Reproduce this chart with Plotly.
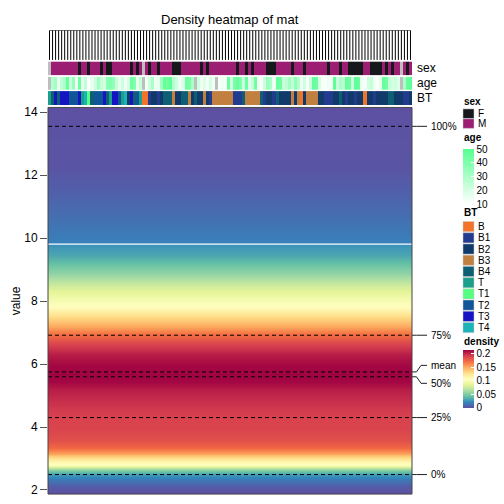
import plotly.graph_objects as go

W = H = 504
FONT = "Liberation Sans, Arial, Helvetica, sans-serif"

# ---------------- data ----------------
n_cols = 120
value_grid = [1.95, 2.16, 2.35, 2.48, 2.61, 2.70, 2.79, 2.92, 3.05, 3.17, 3.36, 3.58,
              3.93, 4.37, 4.78, 5.19, 5.44, 5.69, 5.94, 6.29, 6.66, 6.98, 7.23, 7.51,
              7.83, 8.27, 8.55, 8.86, 9.18, 9.49, 9.78, 9.84, 10.69, 11.54, 12.26, 14.15]
density = [0.001, 0.006, 0.016, 0.028, 0.050, 0.075, 0.100, 0.115, 0.135, 0.155, 0.175, 0.185,
           0.190, 0.192, 0.198, 0.205, 0.213, 0.214, 0.213, 0.205, 0.190, 0.170, 0.150, 0.130,
           0.108, 0.088, 0.074, 0.058, 0.043, 0.032, 0.026, 0.019, 0.012, 0.006, 0.002, 0.0005]
density_max = 0.215
density_ticks = [0, 0.05, 0.1, 0.15, 0.2]

q_labels = ["0%", "25%", "50%", "75%", "100%"]
q_values = [2.49, 4.30, 5.595, 6.915, 13.55]
mean_value = 5.75
white_line_value = 9.81

sex_runs = [("NA", 1), ("M", 9), ("F", 1), ("M", 2), ("F", 1), ("M", 3), ("F", 1), ("M", 1),
            ("F", 2), ("M", 6), ("F", 1), ("M", 1), ("F", 1), ("M", 1), ("NA", 1), ("M", 1),
            ("F", 1), ("M", 2), ("F", 1), ("M", 4), ("F", 3), ("M", 6), ("F", 1), ("M", 1),
            ("F", 1), ("M", 9), ("F", 1), ("M", 2), ("F", 1), ("M", 1), ("F", 1), ("M", 4),
            ("F", 3), ("M", 5), ("F", 1), ("M", 3), ("F", 1), ("M", 7), ("F", 1), ("M", 3),
            ("F", 1), ("M", 2), ("F", 5), ("M", 2), ("F", 4), ("M", 1), ("F", 1), ("M", 1),
            ("F", 1), ("M", 2), ("NA", 1), ("M", 1), ("F", 1), ("M", 1)]

age = [None, 28, 32, 15, 25, 30, 45, 22, 35, 14, 44, 16, 25, 11, 15, 22, 32, 24, 20, 38,
       40, 36, 24, 16, 22, 14, 20, 44, 40, 16, 24, None, 14, 22, 30, 14, 16, 32, 46, 44,
       48, 28, 22, 14, 18, 44, 42, 30, None, 22, 14, 18, 12, 20, 14, None, 12, 14, 12, 46,
       20, 42, 46, 40, 22, 45, 18, 24, 44, 14, 12, 22, 34, 30, 14, 46, 44, 22, 26, 32,
       24, 36, 28, 14, 22, 11, 22, 46, 44, 20, 12, 11, 14, 12, 48, 22, 30, 26, 46, 44,
       22, 48, 46, 14, 12, 22, 24, 14, 12, 16, 46, 44, 24, 20, 22, 18, None, 30, 46, 48]
age_ticks = [10, 20, 30, 40, 50]

bt_runs = [("T", 1), ("B4", 1), ("T3", 1), ("B4", 1), ("T3", 3), ("T2", 3), ("T3", 1), ("T", 1),
           ("T4", 1), ("T1", 1), ("B4", 1), ("T2", 3), ("T3", 1), ("B4", 1), ("T", 1), ("T3", 2),
           ("T2", 1), ("T", 1), ("T4", 1), ("B2", 1), ("T3", 1), ("B4", 1), ("T2", 1), ("T", 1),
           ("B", 2), ("B1", 1), ("B2", 2), ("B1", 1), ("B2", 1), ("B4", 3), ("B3", 1), ("B2", 2),
           ("B4", 2), ("B3", 1), ("B2", 1), ("B4", 1), ("B2", 2), ("B3", 1), ("B2", 1), ("B1", 1),
           ("B3", 7), ("B1", 3), ("B4", 1), ("B3", 5), ("B4", 1), ("B1", 1), ("B2", 2), ("B1", 1),
           ("B4", 1), ("B2", 4), ("B3", 1), ("B2", 1), ("B3", 1), ("B", 1), ("B2", 1), ("B3", 4),
           ("B2", 2), ("B1", 3), ("B2", 2), ("B4", 1), ("B2", 1), ("B1", 1), ("B2", 2), ("B1", 1),
           ("B2", 2), ("B", 1), ("B2", 2), ("B1", 1), ("B2", 4), ("B4", 2), ("B2", 3), ("B1", 2),
           ("B2", 1)]

sex_levels = ["F", "M"]
sex_colors = {"F": "#16181b", "M": "#9b1e73", "NA": "#bebebe"}
bt_levels = ["B", "B1", "B2", "B3", "B4", "T", "T1", "T2", "T3", "T4"]
bt_colors = {"B": "#f2742a", "B1": "#233b8e", "B2": "#0f3a6a", "B3": "#c28040", "B4": "#0e5f74",
             "T": "#1a9f8a", "T1": "#55ff80", "T2": "#0f5699", "T3": "#1414c2", "T4": "#1bb3b8"}
age_low_color, age_high_color = "#ffffff", "#55ff90"
spectral_rev = ["#5E4FA2", "#3288BD", "#66C2A5", "#ABDDA4", "#E6F598", "#FFFFBF",
                "#FEE08B", "#FDAE61", "#F46D43", "#D53E4F", "#9E0142"]


def expand(runs):
    out = []
    for lab, k in runs:
        out += [lab] * k
    return (out + [out[-1]] * n_cols)[:n_cols]


sex = expand(sex_runs)
bt = expand(bt_runs)
cols = list(range(n_cols))


# ---------------- layout geometry (pixels) ----------------
def px_x(p):
    return p / W


def px_y(p):
    return 1 - p / H


body_l, body_r, body_t, body_b = 48, 412, 106.5, 497

fig = go.Figure()

# main density heatmap
fig.add_trace(go.Heatmap(
    x=cols, y=value_grid, z=[[d] * n_cols for d in density],
    zsmooth="best", zmin=0, zmax=density_max,
    colorscale=[[i / 10, c] for i, c in enumerate(spectral_rev)],
    xaxis="x", yaxis="y", hoverinfo="skip",
    colorbar=dict(x=px_x(463), xanchor="left", y=px_y(351), yanchor="top",
                  lenmode="pixels", len=58, thickness=11, xpad=0, ypad=0,
                  outlinewidth=0, tickvals=density_ticks,
                  ticktext=[f"{t:g}" for t in density_ticks],
                  ticks="inside", ticklen=3, tickcolor="white",
                  tickfont=dict(size=10, family=FONT, color="black")),
))


# categorical tracks
def cat_heat(values, levels, colors, yaxis):
    K = len(levels)
    idx = {l: i for i, l in enumerate(levels)}
    cs = []
    for i, l in enumerate(levels):
        cs.append([i / K, colors[l]])
        cs.append([(i + 1) / K, colors[l]])
    return go.Heatmap(x=cols, y=[0], z=[[idx[v] for v in values]], zmin=-0.5, zmax=K - 0.5,
                      colorscale=cs, showscale=False, xaxis="x", yaxis=yaxis, hoverinfo="skip")


fig.add_trace(cat_heat(sex, sex_levels + ["NA"], sex_colors, "y4"))
fig.add_trace(cat_heat(bt, bt_levels, bt_colors, "y2"))

# age track (+ NA cells)
fig.add_trace(go.Heatmap(
    x=cols, y=[0], z=[age], zmin=10, zmax=50,
    colorscale=[[0, age_low_color], [1, age_high_color]], xaxis="x", yaxis="y3",
    hoverinfo="skip",
    colorbar=dict(x=px_x(463), xanchor="left", y=px_y(148.5), yanchor="top",
                  lenmode="pixels", len=54.5, thickness=11, xpad=0, ypad=0,
                  outlinewidth=0, tickvals=age_ticks, ticks="inside", ticklen=3,
                  tickcolor="white", tickfont=dict(size=10, family=FONT, color="black")),
))
fig.add_trace(go.Heatmap(
    x=cols, y=[0], z=[[1 if a is None else None for a in age]], zmin=0, zmax=1,
    colorscale=[[0, sex_colors["NA"]], [1, sex_colors["NA"]]], showscale=False,
    xaxis="x", yaxis="y3", hoverinfo="skip"))

# flat dendrogram
dx, dy = [], []
for c in cols:
    dx += [c, c, None]
    dy += [0, 1, None]
dx += [cols[0], cols[-1]]
dy += [1, 1]
fig.add_trace(go.Scatter(x=dx, y=dy, mode="lines", line=dict(color="black", width=1),
                         xaxis="x", yaxis="y5", hoverinfo="skip", showlegend=False))

shapes = []
annotations = []

# white line and quantile lines
shapes.append(dict(type="line", xref="x domain", yref="y", x0=0, x1=1,
                   y0=white_line_value, y1=white_line_value, line=dict(color="white", width=1.2)))
marks = sorted(list(zip(q_values, q_labels)) + [(mean_value, "mean")])
for v, _ in marks:
    shapes.append(dict(type="line", xref="x domain", yref="y", x0=0, x1=1, y0=v, y1=v,
                       line=dict(color="black", width=1, dash="4px,3px")))
# label repel
pos = [v for v, _ in marks]
gap = 0.57
for _ in range(50):
    for i in range(len(pos) - 1):
        d = pos[i + 1] - pos[i]
        if d < gap:
            push = (gap - d) / 2
            pos[i] -= push
            pos[i + 1] += push
for (v, lab), p in zip(marks, pos):
    seg = [(body_r, v, 416.5, v), (416.5, v, 421, p), (421, p, 427, p)]
    for x0, y0, x1, y1 in seg:
        shapes.append(dict(type="line", xref="paper", yref="y", x0=px_x(x0), x1=px_x(x1),
                           y0=y0, y1=y1, line=dict(color="#222", width=1)))
    annotations.append(dict(x=px_x(429), y=p, xref="paper", yref="y", text=lab,
                            showarrow=False, xanchor="left", yanchor="middle",
                            font=dict(size=10, family=FONT, color="black")))

# border of body
shapes.append(dict(type="rect", xref="x domain", yref="y domain", x0=0, x1=1, y0=0, y1=1,
                   line=dict(color="#444", width=1)))

# track names
for name, (t, b) in [("sex", (60, 74)), ("age", (75.5, 89)), ("BT", (90, 104))]:
    annotations.append(dict(x=px_x(415), y=px_y((t + b) / 2), xref="paper", yref="paper",
                            text=name, showarrow=False, xanchor="left", yanchor="middle",
                            font=dict(size=12, family=FONT, color="black")))

# title and y-axis title
annotations.append(dict(x=px_x((body_l + body_r) / 2), y=px_y(18), xref="paper", yref="paper",
                        text="Density heatmap of mat", showarrow=False, xanchor="center",
                        yanchor="middle", font=dict(size=13, family=FONT, color="black")))
annotations.append(dict(x=px_x(15.5), y=px_y((body_t + body_b) / 2), xref="paper", yref="paper",
                        text="value", showarrow=False, textangle=-90, xanchor="center",
                        yanchor="middle", font=dict(size=12, family=FONT, color="black")))


# legends
def legend_title(text, y):
    annotations.append(dict(x=px_x(462), y=px_y(y), xref="paper", yref="paper",
                            text=f"<b>{text}</b>", showarrow=False, xanchor="left",
                            yanchor="middle", font=dict(size=10, family=FONT, color="black")))


def legend_keys(levels, colors, top, step, size):
    for i, l in enumerate(levels):
        t = top + i * step
        shapes.append(dict(type="rect", xref="paper", yref="paper", x0=px_x(463), x1=px_x(474),
                           y0=px_y(t + size), y1=px_y(t), fillcolor=colors[l],
                           line=dict(color="#cccccc", width=0.5)))
        annotations.append(dict(x=px_x(476), y=px_y(t + size / 2), xref="paper", yref="paper",
                                text=l, showarrow=False, xanchor="left", yanchor="middle",
                                font=dict(size=10, family=FONT, color="black")))


legend_title("sex", 100)
legend_keys(sex_levels, sex_colors, 108, 10, 9.6)
legend_title("age", 137)
legend_title("BT", 213)
legend_keys(bt_levels, bt_colors, 221.7, 11.33, 10.3)
legend_title("density", 343)

hidden = dict(visible=False, fixedrange=True)
fig.update_layout(
    width=W, height=H, margin=dict(l=0, r=0, t=0, b=0),
    paper_bgcolor="white", plot_bgcolor="white", showlegend=False,
    font=dict(family=FONT, color="black"),
    xaxis=dict(domain=[px_x(body_l), px_x(body_r)], range=[-0.5, n_cols - 0.5], visible=False),
    yaxis=dict(domain=[px_y(body_b), px_y(body_t)], range=[1.87, 14.15],
               tickvals=[2, 4, 6, 8, 10, 12, 14], ticks="outside", ticklen=7,
               tickcolor="#555", showgrid=False, zeroline=False, showline=False,
               tickfont=dict(size=12, family=FONT, color="black")),
    yaxis2=dict(domain=[px_y(104), px_y(90)], range=[-0.5, 0.5], anchor="x", **hidden),
    yaxis3=dict(domain=[px_y(89), px_y(75.5)], range=[-0.5, 0.5], anchor="x", **hidden),
    yaxis4=dict(domain=[px_y(74), px_y(60)], range=[-0.5, 0.5], anchor="x", **hidden),
    yaxis5=dict(domain=[px_y(58.5), px_y(28.5)], range=[0, 1], anchor="x", **hidden),
    shapes=shapes, annotations=annotations,
)

fig.write_html("out.html", config={"displayModeBar": False},
               post_script="document.body.style.margin='0px';document.body.style.padding='0px';")
